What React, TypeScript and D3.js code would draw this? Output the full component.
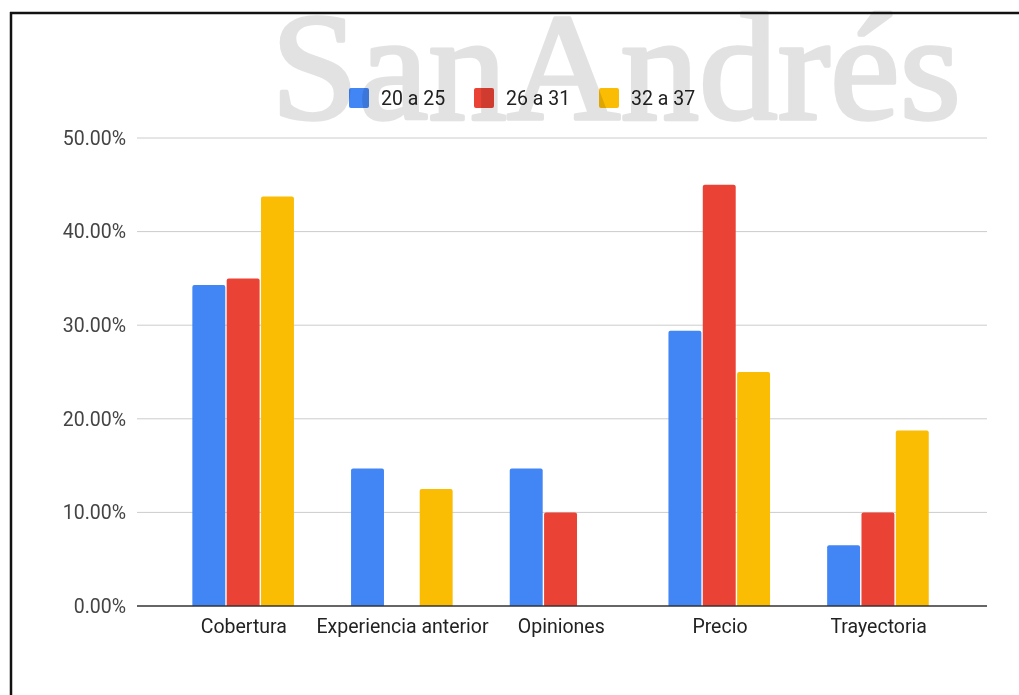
import React from "react";
import * as d3 from "d3";

const categories = ["Cobertura", "Experiencia anterior", "Opiniones", "Precio", "Trayectoria"];
const seriesNames = ["20 a 25", "26 a 31", "32 a 37"];
const series1 = [0.343, 0.147, 0.147, 0.294, 0.065];
const series2 = [0.35, 0, 0.1, 0.45, 0.1];
const series3 = [0.4375, 0.125, 0, 0.25, 0.1875];
const seriesColors = ["#4285f4", "#ea4335", "#fbbc04"];
const yTicks = [0, 0.1, 0.2, 0.3, 0.4, 0.5];

const W = 1019;
const H = 695;
const FONT = "Roboto, Arial, sans-serif";

export default function App() {
  const allSeries = [series1, series2, series3];
  const y = d3.scaleLinear().domain([0, 0.5]).range([606, 138]);
  const x0 = d3
    .scaleBand<string>()
    .domain(categories)
    .range([164.5, 958])
    .paddingInner(0.351)
    .paddingOuter(0.1755);
  const x1 = d3
    .scaleBand<string>()
    .domain(seriesNames)
    .range([0, x0.bandwidth()]);
  const gap = 1.4;
  const fmt = (v: number) => d3.format(".2f")(v * 100) + "%";

  const roundedTop = (x: number, yTop: number, w: number, h: number, r: number) => {
    const rr = Math.min(r, h / 2, w / 2);
    return `M${x},${yTop + h}V${yTop + rr}Q${x},${yTop} ${x + rr},${yTop}H${x + w - rr}Q${x + w},${yTop} ${x + w},${yTop + rr}V${yTop + h}Z`;
  };

  const legendX = [349, 474, 599];

  return (
    <svg
      width={W}
      height={H}
      style={{ position: "absolute", left: 0, top: 0, background: "#fff" }}
    >
      <rect x={0} y={0} width={W} height={H} fill="#fff" />
      {/* gridlines */}
      {yTicks.slice(1).map((t) => (
        <line key={t} x1={137} x2={987} y1={y(t)} y2={y(t)} stroke="#cccccc" strokeWidth={1} />
      ))}
      {/* y tick labels */}
      {yTicks.map((t) => (
        <text
          key={"l" + t}
          x={126}
          y={y(t)}
          dy="0.35em"
          textAnchor="end"
          fontFamily={FONT}
          fontSize={19.5}
          fill="#444"
        >
          {fmt(t)}
        </text>
      ))}
      {/* bars */}
      {categories.map((c, ci) =>
        allSeries.map((s, si) => {
          const v = s[ci];
          if (v <= 0) return null;
          const bx = (x0(c) as number) + (x1(seriesNames[si]) as number);
          const bw = x1.bandwidth() - gap;
          const top = y(v);
          return (
            <path
              key={c + si}
              d={roundedTop(bx, top, bw, y(0) - top, 2)}
              fill={seriesColors[si]}
            />
          );
        })
      )}
      {/* baseline */}
      <line x1={137} x2={987} y1={y(0)} y2={y(0)} stroke="#333" strokeWidth={1.5} />
      {/* category labels */}
      {categories.map((c) => (
        <text
          key={"c" + c}
          x={(x0(c) as number) + x0.bandwidth() / 2}
          y={633}
          textAnchor="middle"
          fontFamily={FONT}
          fontSize={19.5}
          fill="#222"
        >
          {c}
        </text>
      ))}
      {/* legend */}
      {seriesNames.map((n, i) => (
        <g key={"lg" + n} transform={`translate(${legendX[i]},88)`}>
          <rect x={0} y={0} width={20} height={20} rx={2} fill={seriesColors[i]} />
          <text x={32} y={10} dy="0.35em" fontFamily={FONT} fontSize={19.5} fill="#222">
            {n}
          </text>
        </g>
      ))}
      {/* watermark */}
      <text
        x={271}
        y={119}
        fontFamily="'Liberation Serif', 'Times New Roman', serif"
        fontSize={152}
        fill="#e2e2e2"
        stroke="#e2e2e2"
        strokeWidth={3.5}
        strokeLinejoin="round"
        textLength={690}
        lengthAdjust="spacingAndGlyphs"
        style={{ mixBlendMode: "multiply" }}
      >
        SanAndrés
      </text>
      {/* frame */}
      <line x1={10} x2={W} y1={13} y2={13} stroke="#111" strokeWidth={2.5} />
      <line x1={11} x2={11} y1={12} y2={H} stroke="#111" strokeWidth={2.5} />
    </svg>
  );
}
